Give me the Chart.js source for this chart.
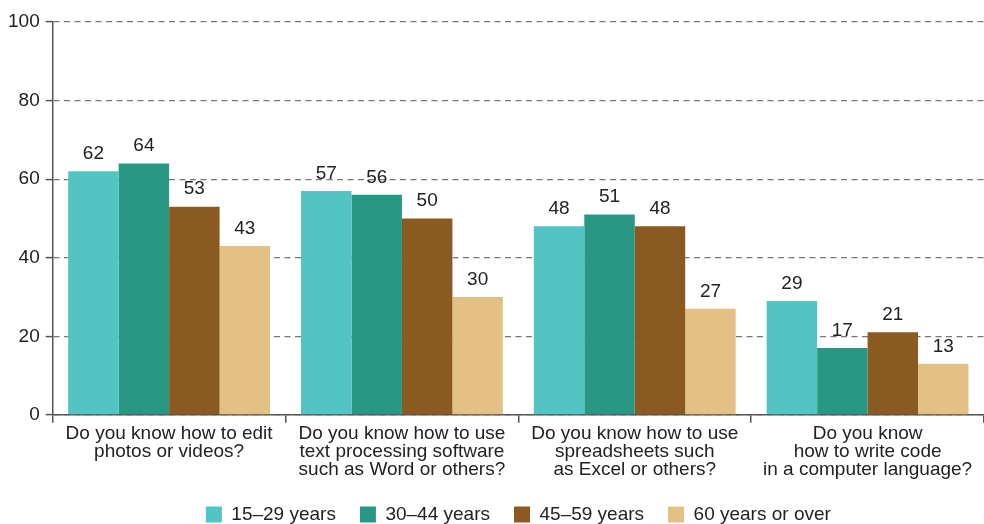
<!DOCTYPE html>
<html>
<head>
<meta charset="utf-8">
<script src="https://cdn.jsdelivr.net/npm/chart.js@4"></script>
<style>
  html, body { margin: 0; padding: 0; background: #fff; overflow: hidden; }
  .wrap { width: 984px; height: 524px; overflow: hidden; }
  .box { width: 984px; height: 534px; }
</style>
</head>
<body>
<div class="wrap"><div class="box"><canvas id="myChart"></canvas></div></div>
<script>
const questions = [
  ['Do you know how to edit', 'photos or videos?'],
  ['Do you know how to use', 'text processing software', 'such as Word or others?'],
  ['Do you know how to use', 'spreadsheets such', 'as Excel or others?'],
  ['Do you know', 'how to write code', 'in a computer language?']
];
const ageGroups = ['15\u201329 years', '30\u201344 years', '45\u201359 years', '60 years or over'];
const age15to29 = [62, 57, 48, 29];
const age30to44 = [64, 56, 51, 17];
const age45to59 = [53, 50, 48, 21];
const age60plus = [43, 30, 27, 13];
const yTicks = [0, 20, 40, 60, 80, 100];

const colors = ['#52c4c4', '#289884', '#8a5a21', '#e3c185'];
const series = [age15to29, age30to44, age45to59, age60plus];

Chart.defaults.font.family = '"Liberation Sans", Arial, sans-serif';
Chart.defaults.font.size = 19;
Chart.defaults.color = '#222';

// value labels above each bar
const valueLabels = {
  id: 'valueLabels',
  afterDatasetsDraw(chart) {
    const c = chart.ctx;
    c.save();
    c.font = '19px "Liberation Sans", Arial, sans-serif';
    c.fillStyle = '#222';
    c.textAlign = 'center';
    c.textBaseline = 'bottom';
    chart.data.datasets.forEach((ds, i) => {
      chart.getDatasetMeta(i).data.forEach((bar, j) => {
        c.fillText(ds.data[j], bar.x, bar.y - 8);
      });
    });
    c.restore();
  }
};

new Chart(document.getElementById('myChart'), {
  type: 'bar',
  data: {
    labels: questions,
    datasets: series.map((d, i) => ({
      label: ageGroups[i],
      data: d,
      backgroundColor: colors[i],
      categoryPercentage: 0.867,
      barPercentage: 1
    }))
  },
  options: {
    responsive: true,
    maintainAspectRatio: false,
    animation: false,
    layout: { padding: { top: 22, right: 0, left: 2, bottom: 0 } },
    plugins: {
      legend: {
        position: 'bottom',
        fullSize: false,
        labels: {
          boxWidth: 16,
          boxHeight: 16,
          padding: 24,
          font: { size: 19 },
          color: '#222'
        }
      },
      tooltip: { enabled: false }
    },
    scales: {
      x: {
        grid: {
          offset: true,
          drawOnChartArea: false,
          drawTicks: true,
          tickLength: 8,
          color: '#555',
          lineWidth: 1.5
        },
        border: { color: '#555', width: 1.5 },
        ticks: { padding: 2, font: { size: 19, lineHeight: 0.95 }, color: '#222', maxRotation: 0 }
      },
      y: {
        min: 0,
        max: 100,
        afterBuildTicks: (scale) => { scale.ticks = yTicks.map(v => ({ value: v })); },
        grid: {
          color: '#777',
          lineWidth: 1.2,
          tickLength: 7,
          tickColor: '#555',
          tickWidth: 1.5,
          tickBorderDash: []
        },
        border: { color: '#555', width: 1.5, dash: [6, 4.5] },
        ticks: { padding: 6, font: { size: 19 }, color: '#222' }
      }
    }
  },
  plugins: [valueLabels]
});
</script>
</body>
</html>
